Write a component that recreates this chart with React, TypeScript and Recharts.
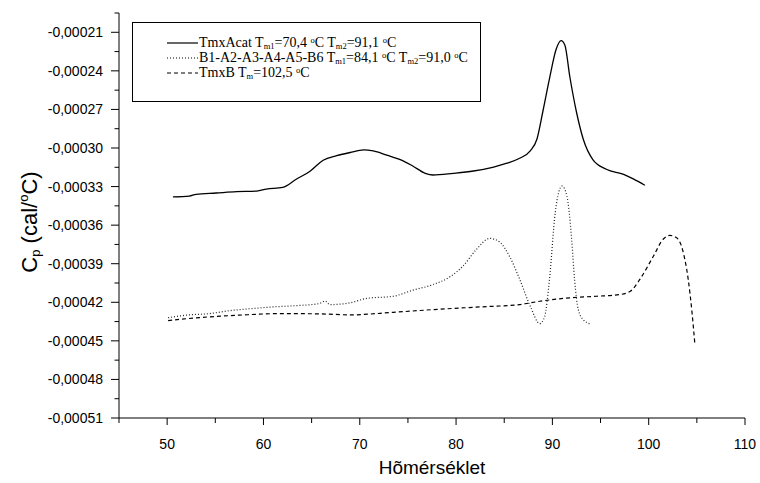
import { Line, LineChart, XAxis, YAxis } from "recharts";

// TmxAcat (solid)
const acatT = [
  50.6, 52.3, 53.0, 55.1, 57.2, 59.3, 60.3, 62.0, 63.4, 64.8, 66.2, 67.6, 69.0,
  70.4, 71.4, 72.8, 74.5, 75.5, 76.8, 77.6, 79.7, 81.8, 83.9, 85.2, 86.6, 87.7,
  88.4, 89.0, 89.7, 90.4, 90.9, 91.3, 91.8, 92.5, 93.2, 94.2, 95.6, 97.4, 98.4,
  99.6,
];
const acatCp = [
  -0.000338, -0.0003374, -0.000336, -0.000335, -0.000334, -0.0003335,
  -0.000332, -0.0003306, -0.0003243, -0.0003183, -0.0003095, -0.000306,
  -0.0003035, -0.0003015, -0.0003023, -0.0003056, -0.00031, -0.000314,
  -0.0003197, -0.000321, -0.0003197, -0.0003179, -0.0003148, -0.000312,
  -0.000308, -0.0003023, -0.000293, -0.000272, -0.000246, -0.000223,
  -0.0002165, -0.00022, -0.000244, -0.000272, -0.000293, -0.000309,
  -0.0003165, -0.0003205, -0.000324, -0.000329,
];

// B1-A2-A3-A4-A5-B6 (dotted)
const b1T = [
  50.1, 52.0, 54.4, 56.5, 58.6, 61.0, 63.4, 65.8, 66.4, 66.9, 69.0, 70.7, 73.5,
  75.5, 77.5, 79.4, 80.7, 82.1, 83.5, 84.5, 85.6, 86.6, 87.7, 88.7, 89.2, 89.7,
  90.3, 91.0, 91.5, 92.0, 92.3, 92.7, 93.2, 94.0,
];
const b1Cp = [
  -0.000432, -0.00043, -0.0004288, -0.0004265, -0.000425, -0.0004236,
  -0.0004226, -0.000421, -0.000419, -0.0004218, -0.0004204, -0.000417,
  -0.0004153, -0.0004106, -0.0004065, -0.0004, -0.000392, -0.000379,
  -0.0003703, -0.000373, -0.000385, -0.000402, -0.000423, -0.0004366,
  -0.000431, -0.000402, -0.00035, -0.0003296, -0.000337, -0.000371,
  -0.000402, -0.000426, -0.0004335, -0.000437,
];

// TmxB (dashed)
const tmxbT = [
  50.1, 53.7, 57.5, 61.7, 65.8, 69.0, 73.5, 77.6, 82.5, 86.6, 88.7, 91.8, 94.6,
  97.0, 98.1, 99.1, 100.5, 101.5, 102.2, 102.9, 103.6, 104.1, 104.5, 104.8,
];
const tmxbCp = [
  -0.0004342, -0.0004317, -0.00043, -0.0004288, -0.000429, -0.0004298,
  -0.0004278, -0.0004257, -0.0004236, -0.0004218, -0.0004192, -0.0004165,
  -0.0004153, -0.000414, -0.0004114, -0.000402, -0.000384, -0.000371,
  -0.000368, -0.0003698, -0.0003815, -0.000402, -0.000428, -0.000453,
];

const xTicks = [45, 50, 55, 60, 65, 70, 75, 80, 85, 90, 95, 100, 105, 110];
const yTicks = [
  -0.00051, -0.000495, -0.00048, -0.000465, -0.00045, -0.000435, -0.00042,
  -0.000405, -0.00039, -0.000375, -0.00036, -0.000345, -0.00033, -0.000315,
  -0.0003, -0.000285, -0.00027, -0.000255, -0.00024, -0.000225, -0.00021,
  -0.000195,
];

const zip = (t: number[], cp: number[]) => t.map((v, i) => ({ t: v, cp: cp[i] }));
const acatData = zip(acatT, acatCp);
const b1Data = zip(b1T, b1Cp);
const tmxbData = zip(tmxbT, tmxbCp);

const sans = '"Liberation Sans", Arial, sans-serif';
const serif = '"Liberation Serif", "Times New Roman", serif';

const XTick = ({ x, y, payload }: any) => {
  const major = payload.value % 10 === 0;
  return (
    <g>
      <line x1={x} x2={x} y1={y} y2={y + (major ? 7 : 5)} stroke="#000" />
      {major && (
        <text x={x} y={y + 31} textAnchor="middle" fontSize={14} fontFamily={sans} fill="#000">
          {payload.value}
        </text>
      )}
    </g>
  );
};

const YTick = ({ x, y, payload, index }: any) => {
  const major = index % 2 === 0;
  return (
    <g>
      <line x1={x} x2={x - (major ? 8 : 4.5)} y1={y} y2={y} stroke="#000" />
      {major && (
        <text x={x - 16} y={y + 5} textAnchor="end" fontSize={14} fontFamily={sans} fill="#000">
          {payload.value.toFixed(5).replace(".", ",")}
        </text>
      )}
    </g>
  );
};

const XTitle = () => (
  <text x={432} y={474} textAnchor="middle" fontSize={19} fontFamily={sans} fill="#000">
    Hõmérséklet
  </text>
);

const YTitle = () => (
  <text
    transform="translate(29,222) rotate(-90)"
    textAnchor="middle"
    dominantBaseline="central"
    fontSize={22}
    fontFamily={sans}
    fill="#000"
  >
    C<tspan fontSize={13} dy={6}>p</tspan>
    <tspan dy={-6}> (cal/</tspan>
    <tspan fontSize={13} dy={-6}>o</tspan>
    <tspan dy={6}>C)</tspan>
  </text>
);

const Sub = ({ children }: any) => (
  <span style={{ fontSize: 8.5, lineHeight: "8px", position: "relative", top: 2 }}>{children}</span>
);
const Deg = () => (
  <span style={{ fontSize: 8.5, lineHeight: "8px", position: "relative", top: -4 }}>o</span>
);

const legendRows = [
  {
    dash: "",
    text: (
      <>
        TmxAcat T<Sub>m1</Sub>=70,4 <Deg />C T<Sub>m2</Sub>=91,1 <Deg />C
      </>
    ),
  },
  {
    dash: "1 2",
    text: (
      <>
        B1-A2-A3-A4-A5-B6 T<Sub>m1</Sub>=84,1 <Deg />C T<Sub>m2</Sub>=91,0 <Deg />C
      </>
    ),
  },
  {
    dash: "4 3",
    text: (
      <>
        TmxB T<Sub>m</Sub>=102,5 <Deg />C
      </>
    ),
  },
];

const LegendBox = () => (
  <div
    style={{
      position: "absolute",
      left: 132,
      top: 22,
      width: 347,
      height: 78,
      border: "1px solid #000",
      background: "#fff",
      fontFamily: serif,
      fontSize: 14,
      color: "#000",
    }}
  >
    {legendRows.map((r, i) => (
      <div
        key={i}
        style={{
          position: "absolute",
          left: 34,
          top: [13, 28, 42.5][i],
          height: 14,
          lineHeight: "14px",
          whiteSpace: "nowrap",
          display: "flex",
          alignItems: "center",
        }}
      >
        <svg width={31} height={14} style={{ marginRight: 1 }}>
          <line x1={0} x2={31} y1={7} y2={7} stroke="#000" strokeWidth={1.2} strokeDasharray={r.dash} />
        </svg>
        <span>{r.text}</span>
      </div>
    ))}
  </div>
);

export default function App() {
  return (
    <div style={{ position: "absolute", left: 0, top: 0, width: 760, height: 483, background: "#fff" }}>
      <LineChart width={760} height={483} margin={{ top: 13, right: 15, bottom: 20, left: 0 }}>
        <XAxis
          type="number"
          dataKey="t"
          domain={[45, 110]}
          ticks={xTicks}
          interval={0}
          allowDataOverflow
          height={45}
          tickLine={false}
          tickSize={0}
          tickMargin={0}
          tick={<XTick />}
          axisLine={{ stroke: "#000" }}
          label={<XTitle />}
        />
        <YAxis
          type="number"
          domain={[-0.00051, -0.000195]}
          ticks={yTicks}
          interval={0}
          allowDataOverflow
          width={119}
          tickLine={false}
          tickSize={0}
          tickMargin={0}
          tick={<YTick />}
          axisLine={{ stroke: "#000" }}
          label={<YTitle />}
        />
        <Line data={acatData} dataKey="cp" type="monotone" stroke="#000" strokeWidth={1.3} dot={false} isAnimationActive={false} />
        <Line data={b1Data} dataKey="cp" type="monotone" stroke="#222" strokeWidth={1.2} strokeDasharray="1 2" dot={false} isAnimationActive={false} />
        <Line data={tmxbData} dataKey="cp" type="monotone" stroke="#000" strokeWidth={1.2} strokeDasharray="4 3" dot={false} isAnimationActive={false} />
      </LineChart>
      <LegendBox />
    </div>
  );
}
